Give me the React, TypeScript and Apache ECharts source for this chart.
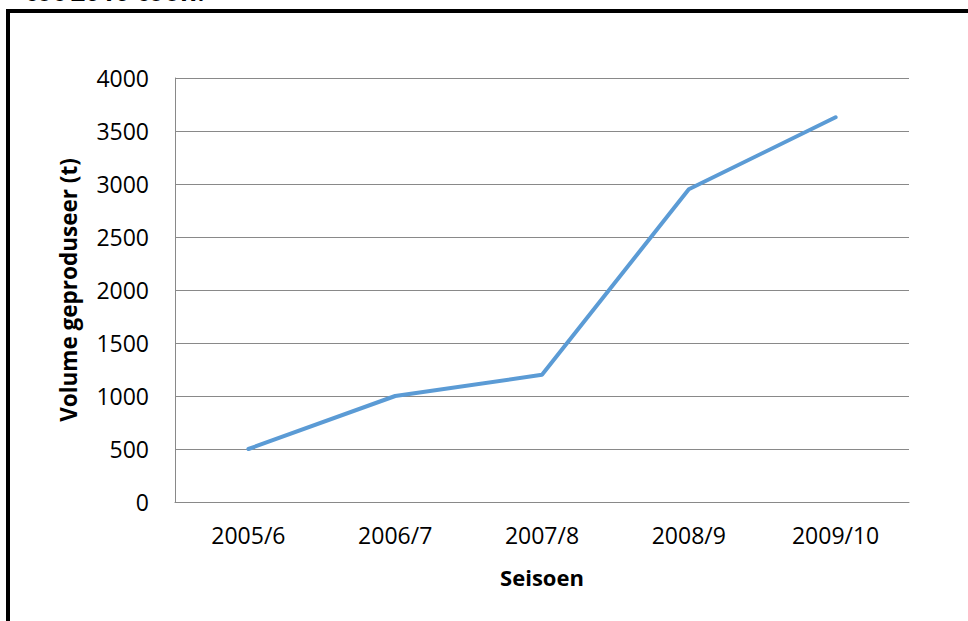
import React, { useEffect, useRef } from "react";
import * as echarts from "echarts";

const categories = ["2005/6", "2006/7", "2007/8", "2008/9", "2009/10"];
const volumes = [500, 1000, 1200, 2950, 3630];
const yTitle = "Volume geproduseer (t)";
const xTitle = "Seisoen";
const cutTitle = "tot 2010 toon.";

export default function App() {
  const ref = useRef<HTMLDivElement>(null);
  useEffect(() => {
    if (!ref.current) return;
    const chart = echarts.init(ref.current, undefined, { renderer: "svg" });
    const font = "'Open Sans', 'Noto Sans', sans-serif";
    chart.setOption({
      animation: false,
      backgroundColor: "#ffffff",
      textStyle: { fontFamily: font },
      grid: { left: 175, right: 59, top: 78, bottom: 119, containLabel: false },
      xAxis: {
        type: "category",
        data: categories,
        boundaryGap: true,
        axisLine: { show: true, lineStyle: { color: "#898989", width: 1 } },
        axisTick: { show: false },
        axisLabel: { color: "#000", fontSize: 23, margin: 21, fontFamily: font },
        name: xTitle,
        nameLocation: "middle",
        nameGap: 64,
        nameTextStyle: { color: "#000", fontSize: 22, fontWeight: "bold", fontFamily: font },
      },
      yAxis: {
        type: "value",
        min: 0,
        max: 4000,
        interval: 500,
        axisLine: { show: true, lineStyle: { color: "#898989", width: 1 } },
        axisTick: { show: false },
        axisLabel: {
          color: "#000",
          fontSize: 23,
          margin: 26,
          fontFamily: font,
          formatter: (v: number) => String(v),
        },
        splitLine: { show: true, lineStyle: { color: "#898989", width: 1 } },
        name: yTitle,
        nameLocation: "middle",
        nameRotate: 90,
        nameGap: 95,
        nameTextStyle: { color: "#000", fontSize: 22.5, fontWeight: "bold", fontFamily: font },
      },
      series: [
        {
          type: "line",
          data: volumes,
          showSymbol: false,
          symbol: "none",
          lineStyle: { color: "#5B9BD5", width: 4, cap: "round" },
        },
      ],
      graphic: [
        {
          type: "text",
          left: 25,
          top: -22,
          style: {
            text: cutTitle,
            fill: "#000",
            font: `bold 26px ${font}`,
          },
        },
        {
          type: "line",
          shape: { x1: 6, y1: 11, x2: 968, y2: 11 },
          style: { stroke: "#000", lineWidth: 4 },
        },
        {
          type: "line",
          shape: { x1: 8, y1: 9, x2: 8, y2: 621 },
          style: { stroke: "#000", lineWidth: 4 },
        },
      ],
    });
    return () => chart.dispose();
  }, []);
  return (
    <div style={{ position: "fixed", left: 0, top: 0, width: 968, height: 621, background: "#fff" }}>
      <div ref={ref} style={{ width: 968, height: 621 }} />
    </div>
  );
}
